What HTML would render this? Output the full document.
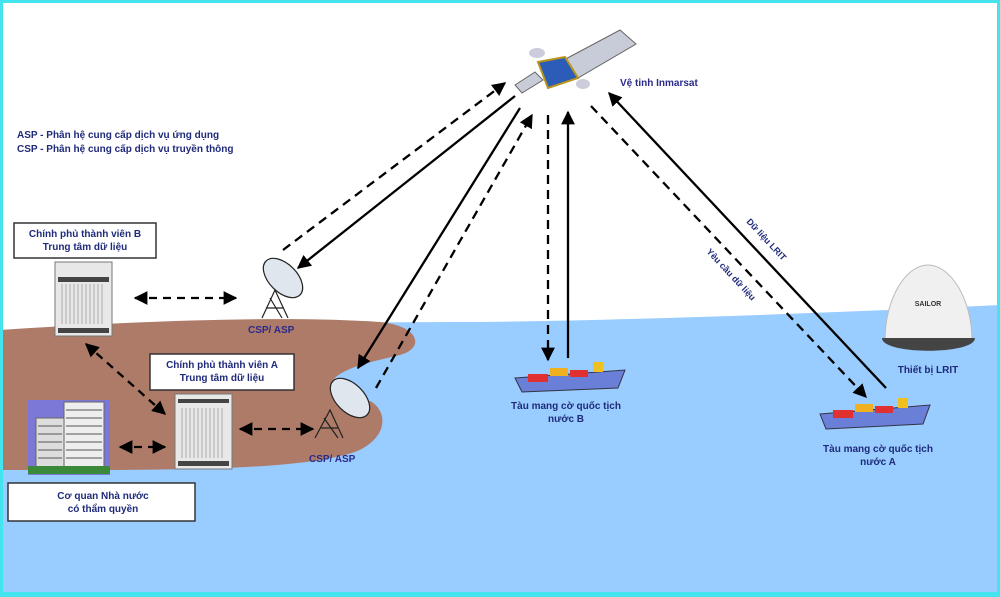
<!DOCTYPE html>
<html><head><meta charset="utf-8"><style>
html,body{margin:0;padding:0;background:#fff}
svg{display:block}
text{font-family:"Liberation Sans",sans-serif;font-weight:bold}
</style></head><body>
<svg width="1000" height="597" viewBox="0 0 1000 597" xmlns="http://www.w3.org/2000/svg">
<defs>
<marker id="ah" viewBox="0 0 10 10" refX="9" refY="5" markerWidth="6" markerHeight="6" markerUnits="strokeWidth" orient="auto-start-reverse"><path d="M0,0 L10,5 L0,10 z" fill="#000"/></marker>
</defs>
<rect width="1000" height="597" fill="#fff"/>
<path d="M0,330 C150,326 300,322 480,322 C650,320 850,312 1000,305 L1000,597 L0,597 Z" fill="#99ccff"/>
<path d="M0,330 C120,322 280,315 380,322 C420,326 425,348 400,355 C370,362 345,368 335,378 C325,395 350,392 372,402 C390,415 385,440 355,452 C300,470 180,470 60,470 L0,470 Z" fill="#ad7b68"/>
<rect x="1.5" y="1.5" width="997" height="593" fill="none" stroke="#44e4ee" stroke-width="3"/>
<rect x="0" y="592" width="1000" height="5" fill="#44e4ee"/>

<text x="17" y="138" font-size="10" fill="#1f2a7a">ASP - Phân hệ cung cấp dịch vụ ứng dụng</text>
<text x="17" y="152" font-size="10" fill="#1f2a7a">CSP - Phân hệ cung cấp dịch vụ truyền thông</text>

<rect x="14" y="223" width="142" height="35" fill="#fff" stroke="#333" stroke-width="1.5"/>
<text x="85" y="237" font-size="10" fill="#1f2a7a" text-anchor="middle">Chính phủ thành viên B</text>
<text x="85" y="250" font-size="10" fill="#1f2a7a" text-anchor="middle">Trung tâm dữ liệu</text>
<rect x="150" y="354" width="144" height="36" fill="#fff" stroke="#333" stroke-width="1.5"/>
<text x="222" y="368" font-size="10" fill="#1f2a7a" text-anchor="middle">Chính phủ thành viên A</text>
<text x="222" y="381" font-size="10" fill="#1f2a7a" text-anchor="middle">Trung tâm dữ liệu</text>
<rect x="8" y="483" width="187" height="38" fill="#fff" stroke="#333" stroke-width="1.5"/>
<text x="103" y="499" font-size="10" fill="#1f2a7a" text-anchor="middle">Cơ quan Nhà nước</text>
<text x="103" y="512" font-size="10" fill="#1f2a7a" text-anchor="middle">có thẩm quyền</text>

<g>
<rect x="55" y="262" width="57" height="74" fill="#e8e8e8" stroke="#777"/>
<rect x="58" y="277" width="51" height="5" fill="#444"/>
<rect x="58" y="328" width="51" height="5" fill="#444"/>
<path d="M62,284 v40 M66,284 v40 M70,284 v40 M74,284 v40 M78,284 v40 M82,284 v40 M86,284 v40 M90,284 v40 M94,284 v40 M98,284 v40 M102,284 v40" stroke="#aaa"/>
</g>
<g>
<rect x="175" y="394" width="57" height="75" fill="#e8e8e8" stroke="#777"/>
<rect x="178" y="399" width="51" height="4" fill="#444"/>
<rect x="178" y="461" width="51" height="5" fill="#444"/>
<path d="M182,408 v50 M186,408 v50 M190,408 v50 M194,408 v50 M198,408 v50 M202,408 v50 M206,408 v50 M210,408 v50 M214,408 v50 M218,408 v50 M222,408 v50" stroke="#aaa"/>
</g>
<rect x="28" y="400" width="82" height="75" fill="#7b78d8"/>
<rect x="36" y="418" width="28" height="54" fill="#ddd" stroke="#666"/>
<rect x="64" y="402" width="40" height="70" fill="#eee" stroke="#666"/>
<path d="M66,410 h36 M66,418 h36 M66,426 h36 M66,434 h36 M66,442 h36 M66,450 h36 M66,458 h36 M38,426 h24 M38,434 h24 M38,442 h24 M38,450 h24 M38,458 h24" stroke="#555"/>
<rect x="28" y="466" width="82" height="8" fill="#3a8a3a"/>

<g fill="#dfe6ee" stroke="#222" stroke-width="1.2">
<ellipse cx="283" cy="278" rx="14" ry="24" transform="rotate(-45 283 278)"/>
<path d="M262,318 L275,290 L288,318 M266,308 L284,308 M270,298 L282,318" fill="none"/>
<ellipse cx="350" cy="398" rx="14" ry="24" transform="rotate(-45 350 398)"/>
<path d="M315,438 L330,410 L343,438 M320,428 L338,428 M324,418 L338,438" fill="none"/>
</g>
<text x="248" y="333" font-size="10" fill="#2a2a8a">CSP/ ASP</text>
<text x="309" y="462" font-size="10" fill="#2a2a8a">CSP/ ASP</text>

<g>
<path d="M560,62 L620,30 L636,44 L578,78 Z" fill="#c8ccd8" stroke="#666"/>
<path d="M515,85 L535,72 L543,80 L522,93 Z" fill="#c8ccd8" stroke="#666"/>
<path d="M538,62 L565,57 L578,78 L548,88 Z" fill="#2a5cb8" stroke="#b8941a" stroke-width="2"/>
<ellipse cx="537" cy="53" rx="8" ry="5" fill="#ccd"/>
<ellipse cx="583" cy="84" rx="7" ry="5" fill="#ccd"/>
</g>
<text x="620" y="86" font-size="10" fill="#2a2a8a">Vệ tinh Inmarsat</text>

<g>
<path d="M515,378 L625,370 L618,388 L522,392 Z" fill="#6a7fd8" stroke="#334"/>
<rect x="528" y="374" width="20" height="8" fill="#e03030"/>
<rect x="550" y="368" width="18" height="8" fill="#f0b020"/>
<rect x="570" y="370" width="18" height="7" fill="#e03030"/>
<rect x="593" y="362" width="10" height="10" fill="#f0c020"/>
</g>
<text x="566" y="409" font-size="10" fill="#1f2a7a" text-anchor="middle">Tàu mang cờ quốc tịch</text>
<text x="566" y="422" font-size="10" fill="#1f2a7a" text-anchor="middle">nước B</text>
<g>
<path d="M820,414 L930,405 L923,424 L826,429 Z" fill="#6a7fd8" stroke="#334"/>
<rect x="833" y="410" width="20" height="8" fill="#e03030"/>
<rect x="855" y="404" width="18" height="8" fill="#f0b020"/>
<rect x="875" y="406" width="18" height="7" fill="#e03030"/>
<rect x="898" y="398" width="10" height="10" fill="#f0c020"/>
</g>
<text x="878" y="452" font-size="10" fill="#1f2a7a" text-anchor="middle">Tàu mang cờ quốc tịch</text>
<text x="878" y="465" font-size="10" fill="#1f2a7a" text-anchor="middle">nước A</text>

<path d="M885,340 C885,300 905,265 928,265 C951,265 972,300 972,340 Z" fill="#f0f0f0" stroke="#bbb"/>
<path d="M882,338 C882,355 975,355 975,338 Z" fill="#444"/>
<text x="928" y="306" font-size="7" fill="#333" text-anchor="middle">SAILOR</text>
<text x="928" y="373" font-size="10" fill="#1f2a7a" text-anchor="middle">Thiết bị LRIT</text>

<g stroke="#000" stroke-width="2.3" fill="none">
<line x1="283" y1="250" x2="505" y2="83" stroke-dasharray="9,6" marker-end="url(#ah)"/>
<line x1="515" y1="96" x2="298" y2="268" marker-end="url(#ah)"/>
<line x1="520" y1="108" x2="358" y2="368" marker-end="url(#ah)"/>
<line x1="376" y1="388" x2="532" y2="115" stroke-dasharray="9,6" marker-end="url(#ah)"/>
<line x1="548" y1="115" x2="548" y2="360" stroke-dasharray="9,6" marker-end="url(#ah)"/>
<line x1="568" y1="358" x2="568" y2="112" marker-end="url(#ah)"/>
<line x1="591" y1="106" x2="866" y2="397" stroke-dasharray="9,6" marker-end="url(#ah)"/>
<line x1="886" y1="388" x2="609" y2="93" marker-end="url(#ah)"/>
<line x1="135" y1="298" x2="236" y2="298" stroke-dasharray="8,6" marker-start="url(#ah)" marker-end="url(#ah)"/>
<line x1="86" y1="344" x2="165" y2="414" stroke-dasharray="8,6" marker-start="url(#ah)" marker-end="url(#ah)"/>
<line x1="120" y1="447" x2="165" y2="447" stroke-dasharray="8,6" marker-start="url(#ah)" marker-end="url(#ah)"/>
<line x1="240" y1="429" x2="313" y2="429" stroke-dasharray="8,6" marker-start="url(#ah)" marker-end="url(#ah)"/>
</g>
<text transform="translate(746,222) rotate(47)" font-size="9" fill="#1f2a7a">Dữ liệu LRIT</text>
<text transform="translate(706,252) rotate(47)" font-size="9" fill="#1f2a7a">Yêu cầu dữ liệu</text>
</svg>
</body></html>
